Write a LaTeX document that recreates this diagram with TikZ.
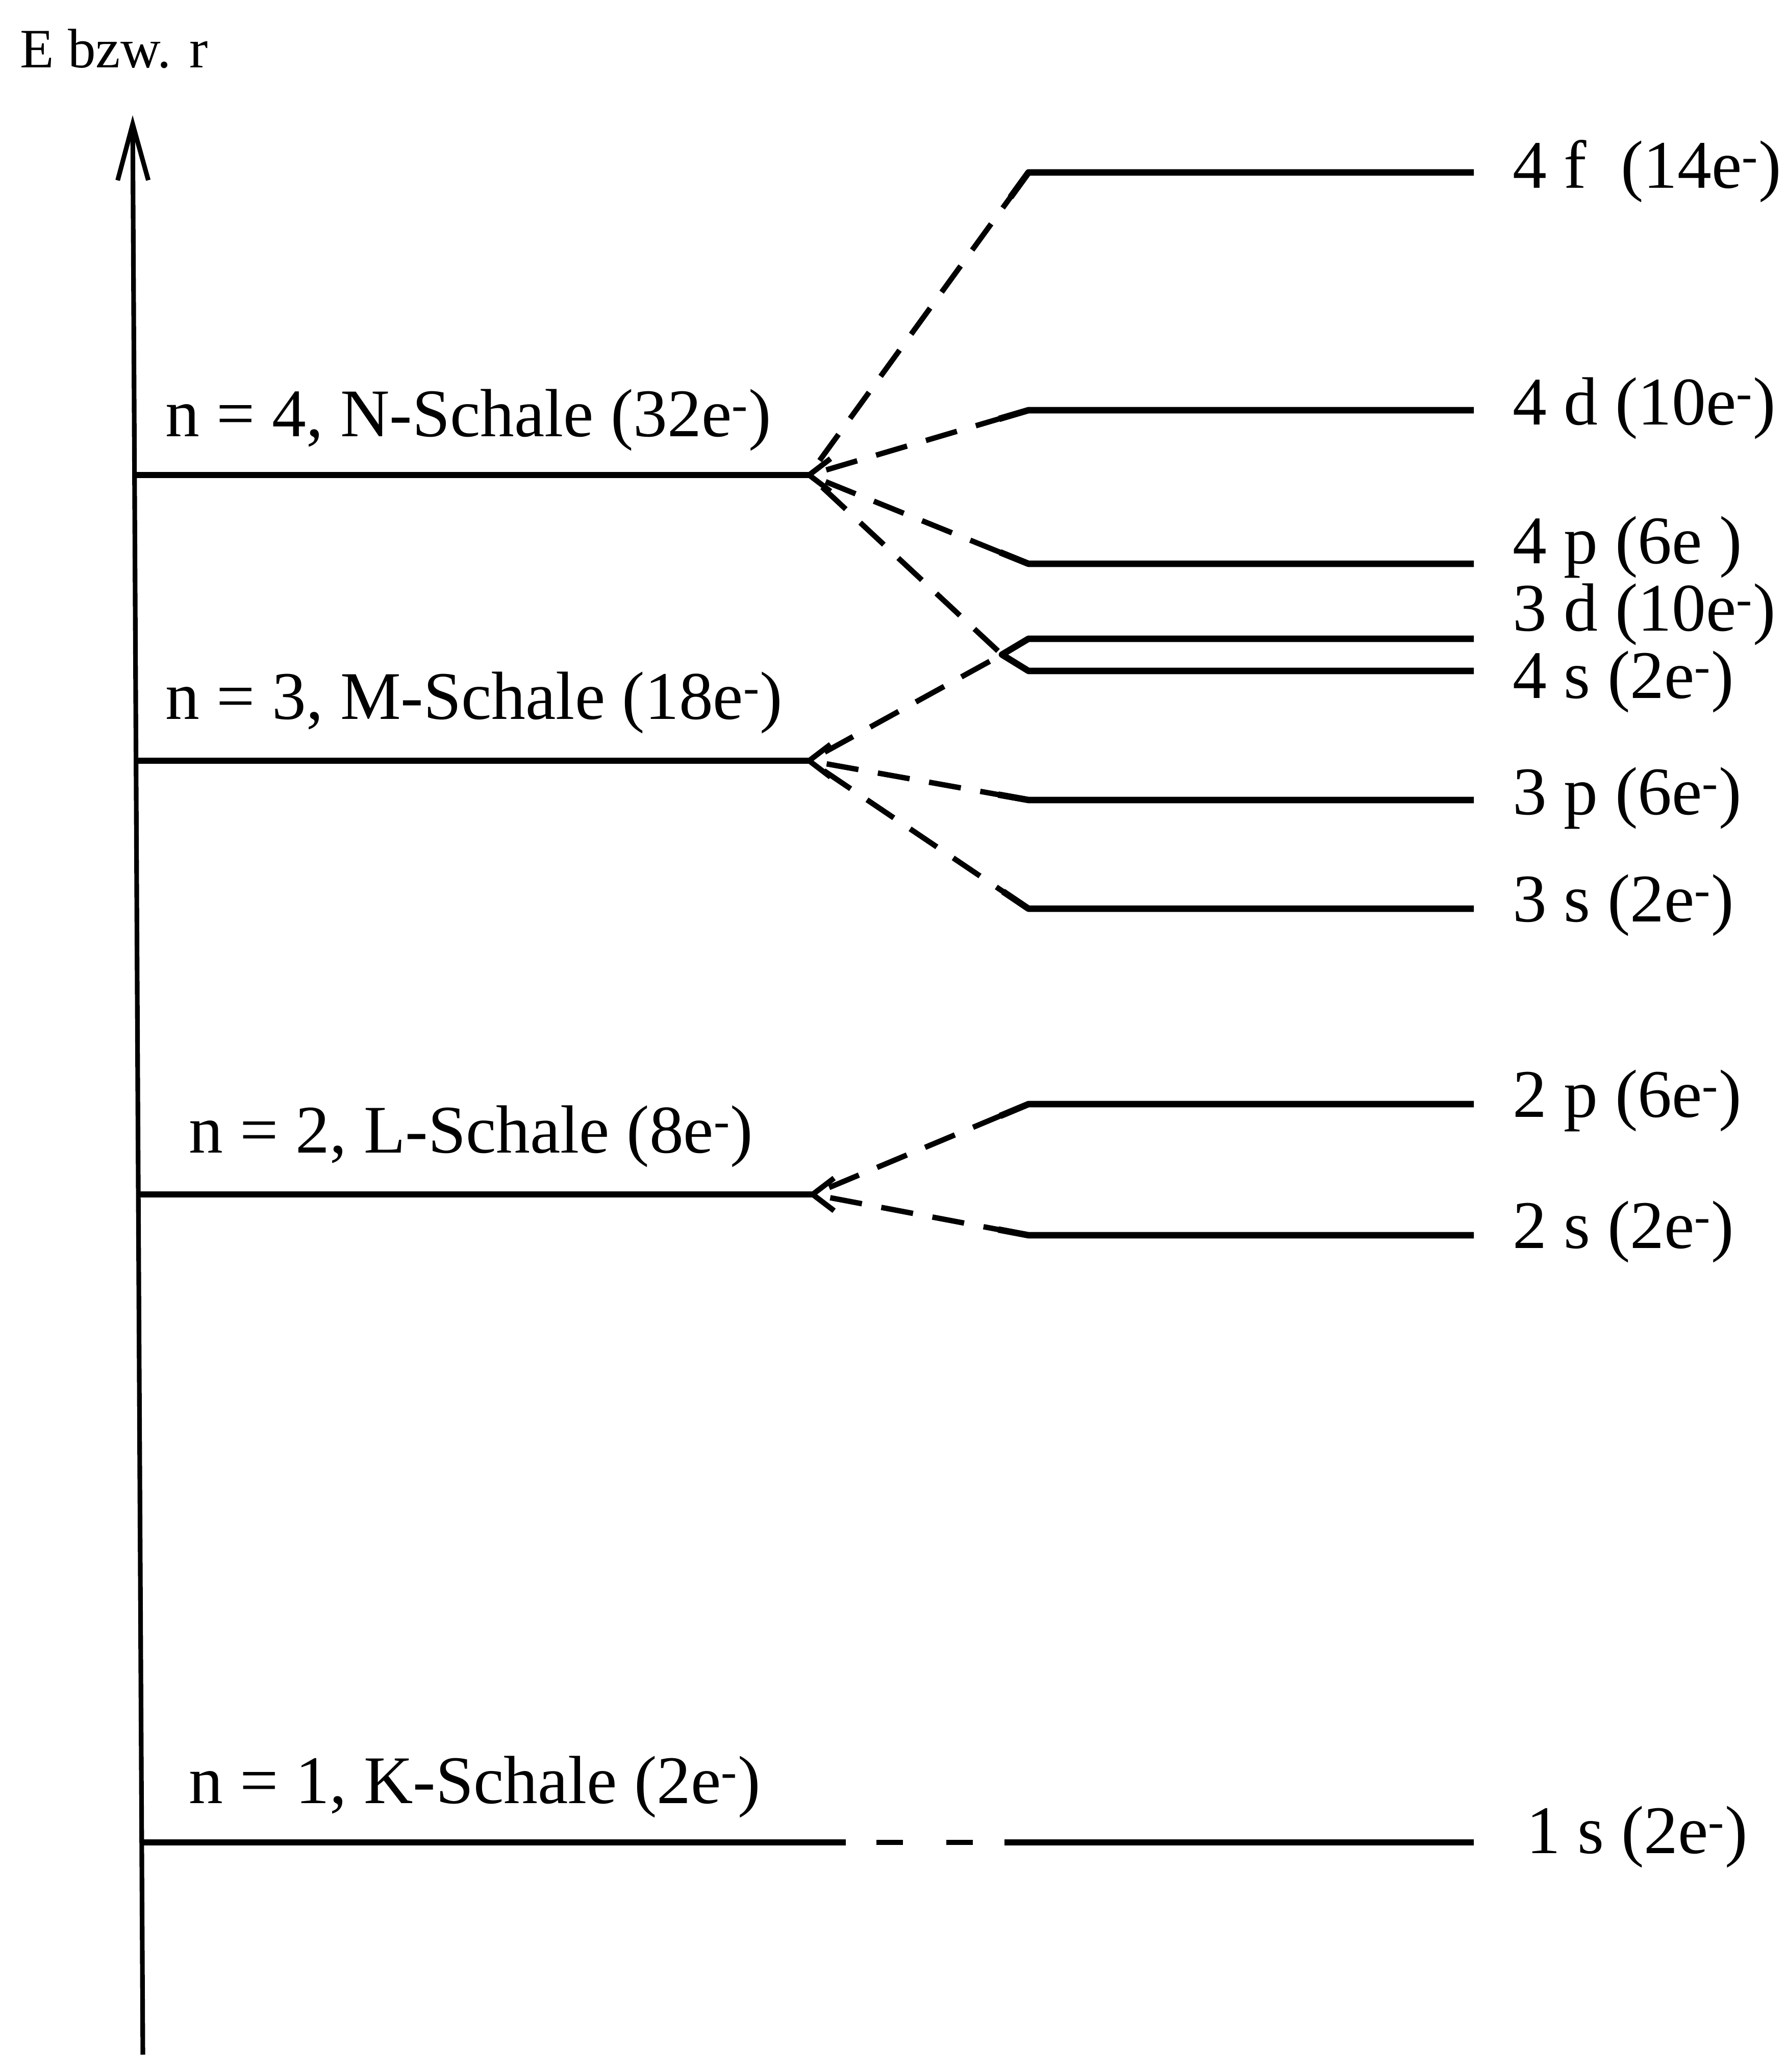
\documentclass[tikz,border=0pt]{standalone}
\usepackage{fontspec}
\setmainfont{Liberation Serif}
\usetikzlibrary{arrows.meta, calc}

\begin{document}
\begin{tikzpicture}[
    shell/.style={line width=3.6pt},
    sub/.style={line width=3.6pt, line join=round},
    split/.style={line width=3pt, dash pattern=on 18pt off 11pt, shorten <=0.35cm},
    lbl/.style={anchor=base west, inner sep=0pt, font=\fontsize{38}{42}\selectfont},
    barb/.pic={\draw[line width=3pt] (0.42,0.32) -- (0,0) -- (0.42,-0.32);}
  ]
  \useasboundingbox (0,0) rectangle (35,40.61);

  % ── Axis ──
  \coordinate (ax0) at (2.80,0.34);
  \coordinate (ax1) at (2.60,38.35);
  \draw[line width=2.6pt, -{Straight Barb[length=1.1cm, width=0.6cm]}] (ax0) -- (ax1);
  \node[lbl, font=\fontsize{31}{34}\selectfont] (axlbl) at (0.39,39.28) {E bzw. r};

  % ── Shells (left) ──
  \foreach \n/\y/\xa/\xe in {4/31.30/2.64/15.86, 3/25.70/2.67/15.86,
                             2/17.20/2.71/15.93, 1/4.50/2.78/16.58} {
    \coordinate (a\n) at (\xa,\y);
    \coordinate (s\n) at (\xe,\y);
    \draw[shell] (a\n) -- (s\n);
  }
  \foreach \n in {4,3,2} \pic at (s\n) {barb};

  \node[lbl] (n4) at (3.24,32.05) {n = 4, N-Schale (32e\textsuperscript{-})};
  \node[lbl] (n3) at (3.24,26.51) {n = 3, M-Schale (18e\textsuperscript{-})};
  \node[lbl] (n2) at (3.70,18.01) {n = 2, L-Schale (8e\textsuperscript{-})};
  \node[lbl] (n1) at (3.70,5.26) {n = 1, K-Schale (2e\textsuperscript{-})};

  % ── Sublevels (right) ──
  \foreach \name/\y in {4f/37.23, 4d/32.57, 4p/29.56, 3d/28.09, 4s/27.46,
                        3p/24.93, 3s/22.80, 2p/18.97, 2s/16.40} {
    \coordinate (l\name) at (20.16,\y);
    \coordinate (r\name) at (28.89,\y);
  }
  \coordinate (l1s) at (19.69,4.50);
  \coordinate (r1s) at (28.89,4.50);
  \coordinate (v34) at (19.64,27.78);

  % splitting of the shells
  \foreach \name/\sh in {4f/s4, 4d/s4, 4p/s4, 3p/s3, 3s/s3, 2p/s2, 2s/s2} {
    \draw[split] (\sh) -- (l\name);
    \draw[sub] ($(l\name)!0.6cm!(\sh)$) -- (l\name) -- (r\name);
  }
  \draw[split] (s4) -- (v34);
  \draw[split] (s3) -- (v34);
  \draw[sub] (r3d) -- (l3d) -- (v34) -- (l4s) -- (r4s);
  \draw[split, dash pattern=on 0.52cm off 0.85cm, shorten <=0.6cm] (s1) -- (l1s);
  \draw[sub] (l1s) -- (r1s);

  \foreach \name/\y/\txt in {4f/36.92/{4 f \ (14e\textsuperscript{-})},
                             4d/32.28/{4 d (10e\textsuperscript{-})},
                             4p/29.56/{4 p (6e\ )},
                             3d/28.24/{3 d (10e\textsuperscript{-})},
                             4s/26.92/{4 s (2e\textsuperscript{-})},
                             3p/24.64/{3 p (6e\textsuperscript{-})},
                             3s/22.54/{3 s (2e\textsuperscript{-})},
                             2p/18.71/{2 p (6e\textsuperscript{-})},
                             2s/16.14/{2 s (2e\textsuperscript{-})}} {
    \node[lbl] (t\name) at (29.65,\y) {\txt};
  }
  \node[lbl] (t1s) at (29.92,4.28) {1 s (2e\textsuperscript{-})};
\end{tikzpicture}
\end{document}
